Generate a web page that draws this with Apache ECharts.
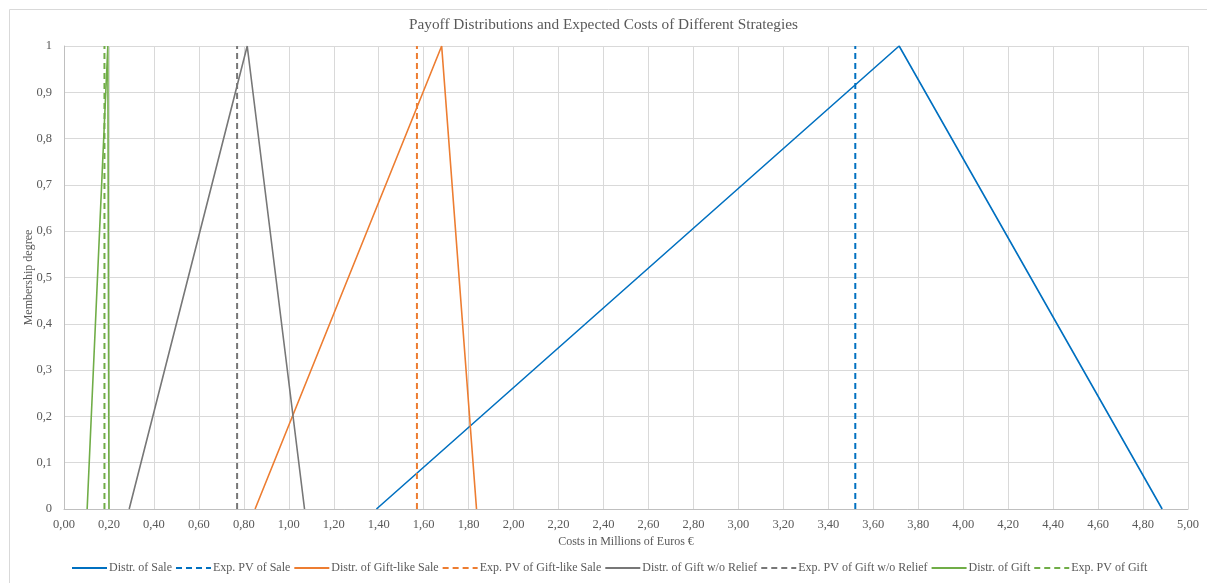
<!DOCTYPE html>
<html>
<head>
<meta charset="utf-8">
<script src="https://cdn.jsdelivr.net/npm/echarts@6/dist/echarts.min.js"></script>
<style>
  html, body { margin: 0; padding: 0; background: #fff; }
  #chart { width: 1207px; height: 583px; }
</style>
</head>
<body>
<div id="chart"></div>
<script>
// triangular distributions: [start, peak, end] in millions of euros
var saleTri = [1.39, 3.715, 4.885];
var giftLikeTri = [0.85, 1.68, 1.835];
var noReliefTri = [0.29, 0.815, 1.07];
var giftTri = [0.103, 0.195, 0.20];
// expected present values
var saleExp = 3.52;
var giftLikeExp = 1.57;
var noReliefExp = 0.77;
var giftExp = 0.18;
var membership = [0, 1, 0];

var BLUE = '#0070C0', ORANGE = '#ED7D31', GREY = '#777777', GREEN = '#70AD47';

function tri(xs) {
  return xs.map(function (x, i) { return [x, membership[i]]; });
}
function vline(x) {
  return [[x, 0], [x, 1]];
}
function solid(name, data, color) {
  return { name: name, type: 'line', data: data, symbol: 'none', silent: true,
    lineStyle: { color: color, width: 1.6 }, itemStyle: { color: color } };
}
function dashed(name, data, color) {
  return { name: name, type: 'line', data: data, symbol: 'none', silent: true,
    lineStyle: { color: color, width: 2, type: [6, 4] }, itemStyle: { color: color } };
}

var font = '"Liberation Serif", "Times New Roman", serif';
var chart = echarts.init(document.getElementById('chart'));
chart.setOption({
  animation: false,
  textStyle: { fontFamily: font },
  graphic: [{
    type: 'rect', left: 7, top: 7, shape: { width: 1220, height: 600 },
    style: { fill: 'none', stroke: '#d9d9d9', lineWidth: 1 }, silent: true
  }],
  title: {
    text: 'Payoff Distributions and Expected Costs of Different Strategies',
    left: 'center', top: 12,
    textStyle: { fontFamily: font, fontSize: 15.3, fontWeight: 'normal', color: '#595959' }
  },
  grid: { left: 64, right: 19, top: 46, bottom: 74 },
  legend: {
    bottom: 4, left: 66, itemWidth: 35, itemHeight: 10, itemGap: 3,
    itemStyle: { opacity: 0 },
    textStyle: { fontFamily: font, fontSize: 12, color: '#595959', padding: [0, 0, 0, -3] },
    data: ['Distr. of Sale', 'Exp. PV of Sale', 'Distr. of Gift-like Sale', 'Exp. PV of Gift-like Sale',
      'Distr. of Gift w/o Relief', 'Exp. PV of Gift w/o Relief', 'Distr. of Gift', 'Exp. PV of Gift']
  },
  xAxis: {
    type: 'value', min: 0, max: 5, interval: 0.2,
    name: 'Costs in Millions of Euros €', nameLocation: 'middle', nameGap: 27, nameMoveOverlap: false,
    nameTextStyle: { fontFamily: font, fontSize: 12, color: '#595959' },
    axisLine: { lineStyle: { color: '#bfbfbf' } },
    axisTick: { show: false },
    axisLabel: { fontFamily: font, fontSize: 12.5, color: '#595959', margin: 9,
      formatter: function (v) { return v.toFixed(2).replace('.', ','); } },
    splitLine: { show: true, lineStyle: { color: '#d9d9d9' } }
  },
  yAxis: {
    type: 'value', min: 0, max: 1, interval: 0.1,
    name: 'Membership degree', nameLocation: 'middle', nameGap: 29, nameMoveOverlap: false,
    nameTextStyle: { fontFamily: font, fontSize: 12, color: '#595959' },
    axisLine: { show: true, lineStyle: { color: '#bfbfbf' } },
    axisTick: { show: false },
    axisLabel: { fontFamily: font, fontSize: 12.5, color: '#595959', margin: 12,
      formatter: function (v) {
        if (v === 0) return '0';
        if (Math.abs(v - 1) < 1e-9) return '1';
        return v.toFixed(1).replace('.', ',');
      } },
    splitLine: { show: true, lineStyle: { color: '#d9d9d9' } }
  },
  series: [
    solid('Distr. of Sale', tri(saleTri), BLUE),
    dashed('Exp. PV of Sale', vline(saleExp), BLUE),
    solid('Distr. of Gift-like Sale', tri(giftLikeTri), ORANGE),
    dashed('Exp. PV of Gift-like Sale', vline(giftLikeExp), ORANGE),
    solid('Distr. of Gift w/o Relief', tri(noReliefTri), GREY),
    dashed('Exp. PV of Gift w/o Relief', vline(noReliefExp), GREY),
    solid('Distr. of Gift', tri(giftTri), GREEN),
    dashed('Exp. PV of Gift', vline(giftExp), GREEN)
  ]
});
</script>
</body>
</html>
